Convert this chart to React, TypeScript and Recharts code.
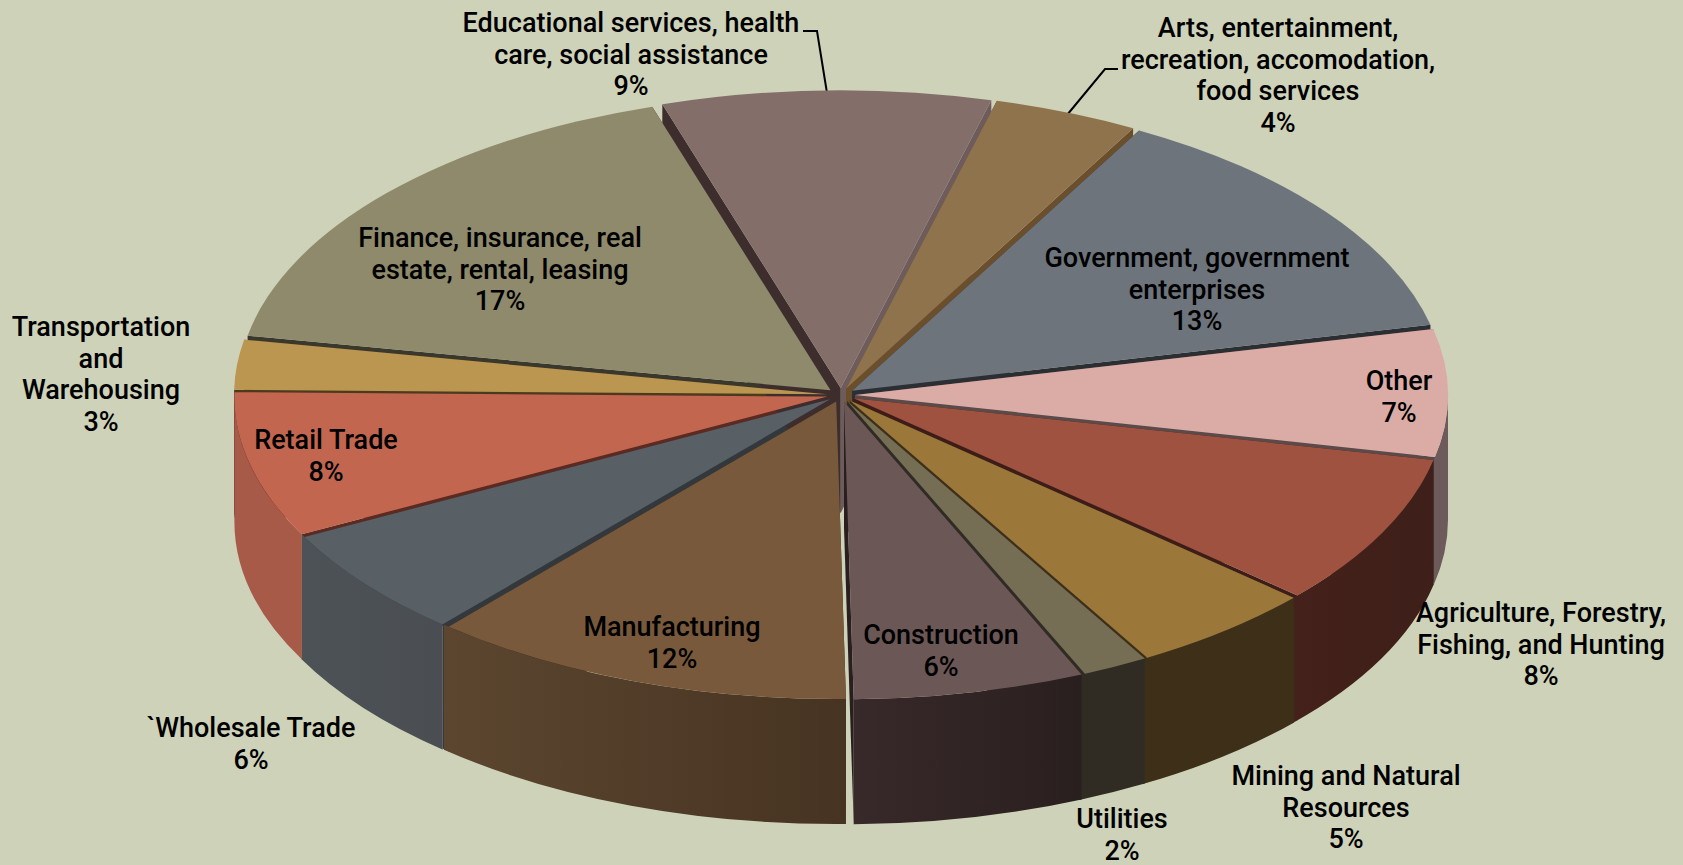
import React from 'react';
import { PieChart, Pie } from 'recharts';

// order is clockwise, starting from the slice at the top of the pie
const categoryLines = [
  ['Educational services, health', 'care, social assistance'],
  ['Arts, entertainment,', 'recreation, accomodation,', 'food services'],
  ['Government, government', 'enterprises'],
  ['Other'],
  ['Agriculture, Forestry,', 'Fishing, and Hunting'],
  ['Mining and Natural', 'Resources'],
  ['Utilities'],
  ['Construction'],
  ['Manufacturing'],
  ['`Wholesale Trade'],
  ['Retail Trade'],
  ['Transportation', 'and', 'Warehousing'],
  ['Finance, insurance, real', 'estate, rental, leasing'],
];
const shares = [8.95, 3.95, 13.4, 6.9, 8.2, 5.1, 1.8, 6.3, 11.6, 6.0, 7.9, 2.7, 17.2];

const topColors = ['#846e6a', '#8f734d', '#6d747b', '#dbaca6', '#a05240', '#9b7739', '#756e55', '#6c5757', '#79593b', '#585f65', '#c2664f', '#bb9650', '#8e8a6b'];
const wallLeft = ['#5c4c4a', '#64502f', '#4c5156', '#6d5b5b', '#44211a', '#3e2f18', '#302c23', '#38292a', '#5c4630', '#4d5256', '#a85a48', '#82683a', '#63604b'];
const wallRight = ['#5c4c4a', '#64502f', '#4c5156', '#6d5b5b', '#3e1f19', '#3e2f18', '#302c23', '#2a1f1f', '#463321', '#4a4e52', '#a85a48', '#82683a', '#63604b'];
const faceStart = ['#3d2d2d', '#6b4e2c', '#2b2f33', '#5a4a4a', '#3c1d17', '#3e2f18', '#302c23', '#2a1f1f', '#3d2c1c', '#33383c', '#5c2a20', '#4a3b1e', '#3a382c'];
const faceEnd = ['#6e5c5c', '#6b4e2c', '#2b2f33', '#5a4a4a', '#3c1d17', '#3e2f18', '#302c23', '#2a1f1f', '#3d2c1c', '#33383c', '#5c2a20', '#4a3b1e', '#3a382c'];

const data = categoryLines.map((lines, i) => ({ name: lines.join(' '), value: shares[i] }));
const reversedData = [...data].reverse();

// label anchor: centre x and the centre y of the first line
const labelSpots = [
  [631, 23], [1278, 28], [1197, 258], [1399, 381], [1541, 613], [1346, 776], [1122, 819],
  [941, 635], [672, 627], [251, 728], [326, 440], [101, 327], [500, 238],
];

const BG = '#cdd2b9';
const TILT = 0.5016;
const DEPTH = 125;
const EXPLODE = 14;
const LINE_H = 31.5;
const LAST = categoryLines.length - 1;
const FIRST_LEFT = 8; // Manufacturing and everything after it sits on the left half
const OPEN_GAP = 7; // Construction: the only wall that keeps its gap to the next one
const WALL_BLEED = 0.6;

const rad = (d: number) => (d * Math.PI) / 180;

// flat-ellipse projection of a pie point, the slice pulled out along its mid angle
const project = (p: any, angle: number, r: number) => {
  const mid = rad((p.startAngle + p.endAngle) / 2);
  return {
    x: p.cx + EXPLODE * Math.cos(mid) + r * Math.cos(rad(angle)),
    y: p.cy - TILT * EXPLODE * Math.sin(mid) - TILT * r * Math.sin(rad(angle)),
  };
};

const TopFace = (p: any) => {
  const c = project(p, 0, 0);
  const a = project(p, p.startAngle, p.outerRadius);
  const b = project(p, p.endAngle, p.outerRadius);
  const large = Math.abs(p.startAngle - p.endAngle) > 180 ? 1 : 0;
  const d = `M${c.x},${c.y} L${a.x},${a.y} A${p.outerRadius},${p.outerRadius * TILT} 0 ${large} 1 ${b.x},${b.y} Z`;
  return <path d={d} fill={topColors[p.index]} />;
};

const faces = (p: any, i: number) => {
  const c = project(p, 0, 0);
  const poly = (angle: number) => {
    const e = project(p, angle, p.outerRadius);
    return `${c.x},${c.y} ${e.x},${e.y} ${e.x},${e.y + DEPTH} ${c.x},${c.y + DEPTH}`;
  };
  // the reversed pie hands its angles over swapped
  const clockwiseStart = Math.max(p.startAngle, p.endAngle);
  const clockwiseEnd = Math.min(p.startAngle, p.endAngle);
  return (
    <g>
      <polygon points={poly(clockwiseEnd)} fill={faceEnd[i]} />
      <polygon points={poly(clockwiseStart)} fill={faceStart[i]} />
    </g>
  );
};

// cut faces have to paint back to front, which runs opposite ways on the two halves
const RightFaces = (p: any) => (p.index < FIRST_LEFT ? faces(p, p.index) : <g />);
const LeftFaces = (p: any) => {
  const i = LAST - p.index;
  return i >= FIRST_LEFT ? faces(p, i) : <g />;
};

const OuterWall = (p: any) => {
  // only the rim between east and west (through south) faces the viewer
  const hi = Math.min(p.startAngle, 0);
  const bleed = p.index === OPEN_GAP ? 0 : WALL_BLEED;
  const lo = Math.max(p.endAngle - bleed, -180);
  if (hi <= lo) return <g />;
  const a = project(p, hi, p.outerRadius);
  const b = project(p, lo, p.outerRadius);
  const rx = p.outerRadius;
  const ry = rx * TILT;
  const d = `M${a.x},${a.y} A${rx},${ry} 0 0 1 ${b.x},${b.y} L${b.x},${b.y + DEPTH} A${rx},${ry} 0 0 0 ${a.x},${a.y + DEPTH} Z`;
  const id = `wall-${p.index}`;
  return (
    <g>
      <defs>
        <linearGradient id={id} x1="0" y1="0" x2="1" y2="0">
          <stop offset="0%" stopColor={wallLeft[p.index]} />
          <stop offset="100%" stopColor={wallRight[p.index]} />
        </linearGradient>
      </defs>
      <path d={d} fill={`url(#${id})`} />
    </g>
  );
};

const SliceLabel = (p: any) => {
  const [x, y] = labelSpots[p.index];
  const rows = [...categoryLines[p.index], `${Math.round(p.value)}%`];
  return (
    <g>
      {rows.map((row, i) => (
        <text
          key={i}
          x={x}
          y={y + i * LINE_H}
          textAnchor="middle"
          dominantBaseline="central"
          fontFamily="Roboto"
          fontWeight={500}
          fontSize={27}
          fill="#000"
        >
          {row}
        </text>
      ))}
    </g>
  );
};

const pieProps = {
  dataKey: 'value',
  nameKey: 'name',
  cx: 841,
  cy: 395,
  innerRadius: 0,
  outerRadius: 593,
  stroke: 'none',
  isAnimationActive: false,
};
const START = 107.5;
const END = -252.5;

export default function App() {
  return (
    <div style={{ position: 'absolute', left: 0, top: 0, width: 1683, height: 865, background: BG, overflow: 'hidden' }}>
      <PieChart width={1683} height={865} margin={{ top: 0, right: 0, bottom: 0, left: 0 }}>
        <Pie {...pieProps} data={reversedData} startAngle={END} endAngle={START} shape={LeftFaces} />
        <Pie {...pieProps} data={data} startAngle={START} endAngle={END} shape={RightFaces} />
        <Pie {...pieProps} data={data} startAngle={START} endAngle={END} shape={OuterWall} />
        <Pie {...pieProps} data={data} startAngle={START} endAngle={END} shape={TopFace} label={SliceLabel} labelLine={false} />
        <polyline points="803,31 817,31 827,93" fill="none" stroke="#000" strokeWidth={2} />
        <polyline points="1118,69 1105,69 1067,115" fill="none" stroke="#000" strokeWidth={2} />
      </PieChart>
    </div>
  );
}
